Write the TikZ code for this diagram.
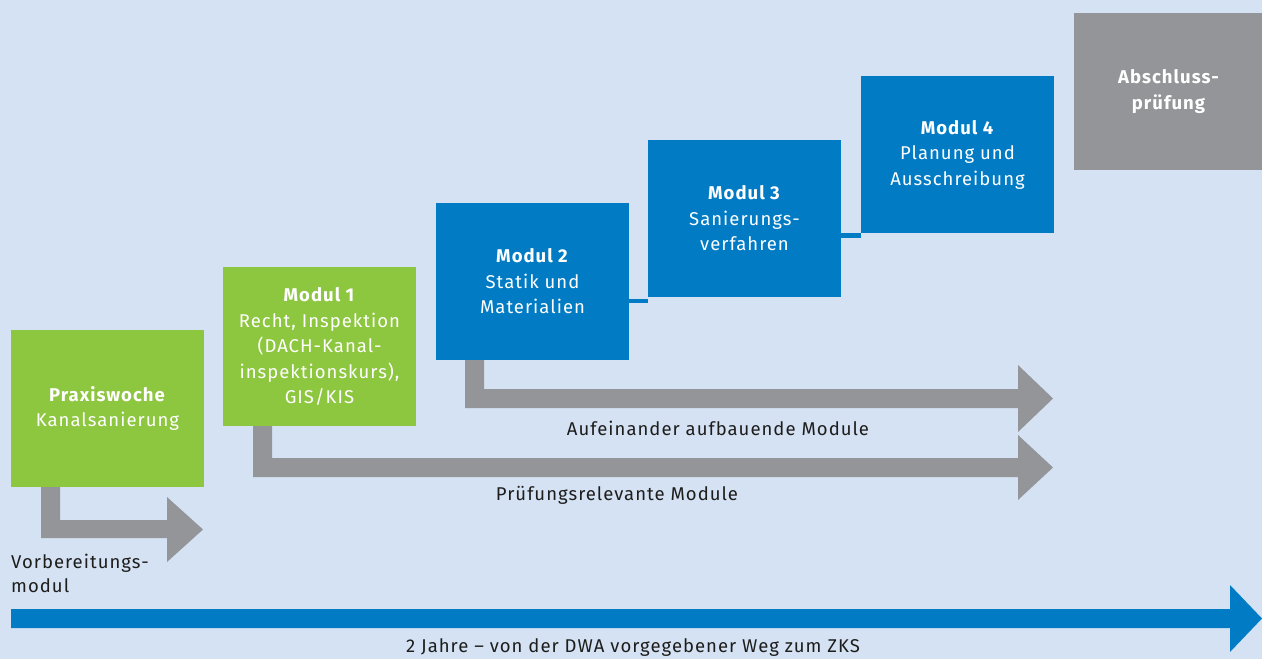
\documentclass[tikz,border=0pt]{standalone}
\usepackage{fontspec}
\setmainfont{Fira Sans}[LetterSpace=5.5]
\usetikzlibrary{calc}
\definecolor{bgblue}{HTML}{D5E2F4}
\definecolor{modgreen}{HTML}{8DC63F}
\definecolor{modblue}{HTML}{007BC4}
\definecolor{modgrey}{HTML}{939598}
\definecolor{txtdark}{HTML}{1D1D1B}
\tikzset{
  box/.style={anchor=north west, inner sep=0pt, outer sep=0pt, minimum width=193pt, minimum height=157pt,
    text=white, align=center, font=\fontsize{18.5}{25.5}\selectfont},
  greenbox/.style={box, fill=modgreen},
  bluebox/.style={box, fill=modblue},
  greybox/.style={box, fill=modgrey},
  flowarrow/.style={fill=modgrey},
  lbl/.style={inner sep=0pt, text=txtdark, font=\fontsize{18.5}{24}\selectfont}
}
\begin{document}
\begin{tikzpicture}[x=1pt,y=-1pt]
\fill[bgblue] (0,0) rectangle (1262,659);
\useasboundingbox (0,0) rectangle (1262,659);

\node[greenbox] (px) at (11,330) {\textbf{Praxiswoche}\\Kanalsanierung};
\node[greenbox, minimum height=159pt] (m1) at (223,267) {\textbf{Modul 1}\\Recht, Inspektion\\(DACH-Kanal-\\inspektionskurs),\\GIS/KIS};
\node[bluebox] (m2) at (436,203) {\textbf{Modul 2}\\Statik und\\Materialien};
\node[bluebox] (m3) at (648,140) {\textbf{Modul 3}\\Sanierungs-\\verfahren};
\node[bluebox] (m4) at (861,76) {\textbf{Modul 4}\\Planung und\\Ausschreibung};
\node[greybox, minimum width=190pt] (ab) at (1074,13) {\textbf{Abschluss-}\\\textbf{prüfung}};

% thin connectors between blue modules
\fill[modblue] ($(m3.south west)+(0,2)$) rectangle ($(m2.east |- m3.south)+(0,6)$);
\fill[modblue] ($(m4.south west)+(0,0)$) rectangle ($(m3.east |- m4.south)+(0,5)$);

% grey arrows
\fill[flowarrow] ([xshift=30pt]px.south west) -- ++(19,0) -- ++(0,33) -- ++(107,0) -- ++(0,-23)
  -- ++(36,32.5) -- ++(-36,32.5) -- ++(0,-24) -- ++(-126,0) -- cycle;
\fill[flowarrow] ([xshift=30pt]m1.south west) -- ++(19,0) -- ++(0,32) -- ++(746,0) -- ++(0,-23)
  -- ++(35,32.5) -- ++(-35,32.5) -- ++(0,-23) -- ++(-765,0) -- cycle;
\fill[flowarrow] ([xshift=29pt]m2.south west) -- ++(19,0) -- ++(0,29) -- ++(534,0) -- ++(0,-24)
  -- ++(35,33.5) -- ++(-35,33.5) -- ++(0,-24) -- ++(-553,0) -- cycle;

% blue time arrow
\coordinate (ts) at (11,609);
\fill[modblue] (ts) -- ++(1219,0) -- ++(0,-24) -- ++(32,33.5) -- ++(-32,33.5) -- ++(0,-24) -- ++(-1219,0) -- cycle;

% labels
\node[lbl] (la) at (718,428) {Aufeinander aufbauende Module};
\node[lbl] (lp) at (617,495) {Prüfungsrelevante Module};
\node[lbl, anchor=west, align=left] (lv) at (11,573) {Vorbereitungs-\\modul};
\node[lbl] (lt) at (633,648) {2 Jahre – von der DWA vorgegebener Weg zum ZKS};
\end{tikzpicture}
\end{document}
